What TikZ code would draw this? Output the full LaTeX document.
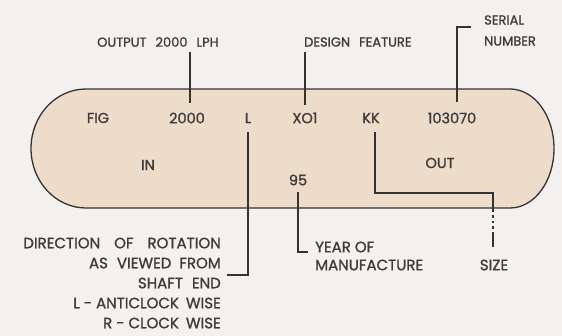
\documentclass[tikz,border=0pt]{standalone}
\usepackage{fontspec}
\setmainfont{Poppins}[FakeBold=1.2]
\definecolor{bgc}{HTML}{F2F1EF}
\definecolor{capc}{HTML}{EEDCCA}
\definecolor{ink}{HTML}{353331}
\definecolor{txt}{HTML}{3E3C3A}
\newcommand\W{\hspace{9pt}}
\newcommand\WW{\hspace{14pt}}
\begin{document}
\begin{tikzpicture}[x=1pt,y=-1pt,
  lbl/.style={font=\fontsize{13}{15}\selectfont, text=txt, inner sep=0pt},
  big/.style={lbl, font=\fontsize{14.5}{16}\selectfont},
  low/.style={lbl, font=\fontsize{15}{20}\selectfont},
  ln/.style={draw=ink, line width=1.3pt}]
\fill[bgc] (0,0) rectangle (562,336);
\useasboundingbox (0,0) rectangle (562,336);
% capsule
\draw[ln, fill=capc] (86,89) -- (510,89)
  .. controls (534.3,89) and (554,115.64) .. (554,148.5)
  .. controls (554,181.36) and (534.3,208) .. (510,208)
  -- (86,208)
  .. controls (55.62,208) and (31,181.36) .. (31,148.5)
  .. controls (31,115.64) and (55.62,89) .. (86,89) -- cycle;
% top labels
\node[lbl, anchor=west] (lph) at (97,42) {OUTPUT\W{}2000\W{}LPH};
\node[lbl, anchor=west] (design) at (304,42) {DESIGN\W{}FEATURE};
\node[lbl, anchor=west, align=left, font=\fontsize{13}{21}\selectfont] (serial) at (484,30.5) {SERIAL\\NUMBER};
% row 1
\node[big] (fig) at (98,118) {FIG};
\node[big] (n2000) at (187,118) {2000};
\node[big] (nl) at (248,118) {L};
\node[big] (xo) at (305,118) {XO1};
\node[big] (kk) at (371,118) {KK};
\node[big] (sno) at (452,118) {103070};
% row 2
\node[big] (in) at (148,165) {IN};
\node[big] (out) at (440,163) {OUT};
\node[big] (n95) at (298,180) {95};
% bottom labels
\node[low, anchor=north east, align=right] (dir) at (221,237.5) {DIRECTION\WW{}OF\WW{}ROTATION\\AS\W{}VIEWED\hspace{4pt} FROM\\SHAFT\W{}END\\L - ANTICLOCK\hspace{3pt} WISE\\R - CLOCK\hspace{3pt} WISE};
\node[low, anchor=west, align=left, font=\fontsize{15}{18}\selectfont] (year) at (315,256) {YEAR OF\\MANUFACTURE};
\node[low] (size) at (494,265) {SIZE};
% connector points
\coordinate (a1) at (190,52);  \coordinate (a2) at (190,103);
\coordinate (d1) at (305,52);  \coordinate (d2) at (305,105);
\coordinate (st) at (471,27);  \coordinate (sc) at (457,27); \coordinate (sb) at (457,102);
\coordinate (l1) at (248,132); \coordinate (lc) at (248,275); \coordinate (lt) at (227,275);
\coordinate (y1) at (298,192); \coordinate (yc) at (298,252); \coordinate (yt) at (308,252);
\coordinate (k1) at (375,132); \coordinate (kc1) at (375,193); \coordinate (kc2) at (493,193);
\coordinate (kd1) at (493,210); \coordinate (kd2) at (493,233); \coordinate (ke) at (493,247);
% connectors
\draw[ln] (a1) -- (a2);
\draw[ln] (d1) -- (d2);
\draw[ln] (st) -- (sc) -- (sb);
\draw[ln] (l1) -- (lc) -- (lt);
\draw[ln] (y1) -- (yc) -- (yt);
\draw[ln] (k1) -- (kc1) -- (kc2) -- (kd1);
\draw[ln, dash pattern=on 2.5pt off 3pt] (kd1) -- (kd2);
\draw[ln] (kd2) -- (ke);
\end{tikzpicture}
\end{document}
